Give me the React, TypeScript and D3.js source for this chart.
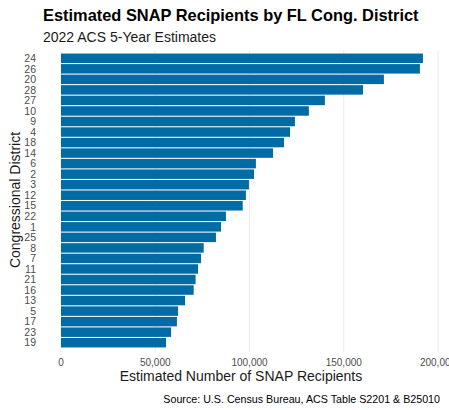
import { useRef, useEffect } from 'react';
import * as d3 from 'd3';

// Districts ordered top to bottom (largest first)
const districts = [
  '24', '26', '20', '28', '27', '10', '9', '4', '18', '14', '6', '2', '3', '12',
  '15', '22', '1', '25', '8', '7', '11', '21', '16', '13', '5', '17', '23', '19',
];

const recipients = [
  192000, 190400, 171300, 160200, 140000, 131500, 124100, 121500, 118300, 112500,
  103400, 102400, 99700, 98100, 96400, 87500, 84900, 82200, 75700, 74300,
  72700, 71400, 70400, 65800, 62100, 61500, 58400, 55700,
];

const xTicks = [0, 50000, 100000, 150000, 200000];

export default function App() {
  const ref = useRef<SVGSVGElement>(null);

  useEffect(() => {
    if (!ref.current) return;
    const svg = d3.select(ref.current);
    svg.selectAll('*').remove();

    const width = 449;
    const height = 410;
    const font = '"Liberation Sans", Arial, sans-serif';

    svg.attr('width', width).attr('height', height).style('font-family', font);

    svg.append('rect').attr('width', width).attr('height', height).attr('fill', '#ffffff');

    const x = d3.scaleLinear().domain([0, 200000]).range([61, 438]);
    const y = d3.scaleBand().domain(districts).range([52.5, 348.5]).padding(0.1);

    // Gridlines
    svg.append('g')
      .selectAll('line')
      .data(xTicks)
      .join('line')
      .attr('x1', d => x(d))
      .attr('x2', d => x(d))
      .attr('y1', 51)
      .attr('y2', 352)
      .attr('stroke', '#ebebeb')
      .attr('stroke-width', 1);

    // Bars
    svg.append('g')
      .selectAll('rect')
      .data(districts)
      .join('rect')
      .attr('x', x(0))
      .attr('y', d => y(d) || 0)
      .attr('width', (_d, i) => x(recipients[i]) - x(0))
      .attr('height', y.bandwidth())
      .attr('fill', '#006ba4');

    // Y tick labels
    svg.append('g')
      .selectAll('text')
      .data(districts)
      .join('text')
      .attr('x', 36)
      .attr('y', d => (y(d) || 0) + y.bandwidth() / 2)
      .attr('dy', '0.35em')
      .attr('text-anchor', 'end')
      .style('font-size', '10.5px')
      .style('fill', '#4d4d4d')
      .text(d => d);

    // X tick labels
    svg.append('g')
      .selectAll('text')
      .data(xTicks)
      .join('text')
      .attr('x', d => x(d))
      .attr('y', 366)
      .attr('text-anchor', 'middle')
      .style('font-size', '10px')
      .style('fill', '#4d4d4d')
      .text(d => d3.format(',')(d));

    // Axis titles
    svg.append('text')
      .attr('x', 241)
      .attr('y', 381)
      .attr('text-anchor', 'middle')
      .style('font-size', '14px')
      .style('fill', '#1a1a1a')
      .text('Estimated Number of SNAP Recipients');

    svg.append('text')
      .attr('transform', 'rotate(-90)')
      .attr('x', -200)
      .attr('y', 20)
      .attr('text-anchor', 'middle')
      .style('font-size', '14px')
      .style('fill', '#1a1a1a')
      .text('Congressional District');

    // Title and subtitle
    svg.append('text')
      .attr('x', 43)
      .attr('y', 21)
      .style('font-size', '16.4px')
      .style('font-weight', 'bold')
      .style('fill', '#000000')
      .text('Estimated SNAP Recipients by FL Cong. District');

    svg.append('text')
      .attr('x', 43)
      .attr('y', 42)
      .style('font-size', '14px')
      .style('fill', '#1a1a1a')
      .text('2022 ACS 5-Year Estimates');

    // Caption
    svg.append('text')
      .attr('x', 440)
      .attr('y', 403)
      .attr('text-anchor', 'end')
      .style('font-size', '10.7px')
      .style('fill', '#000000')
      .text('Source: U.S. Census Bureau, ACS Table S2201 & B25010');
  }, []);

  return (
    <div style={{ position: 'absolute', left: 0, top: 0, width: 449, height: 410, overflow: 'hidden' }}>
      <svg ref={ref} style={{ display: 'block' }}></svg>
    </div>
  );
}
